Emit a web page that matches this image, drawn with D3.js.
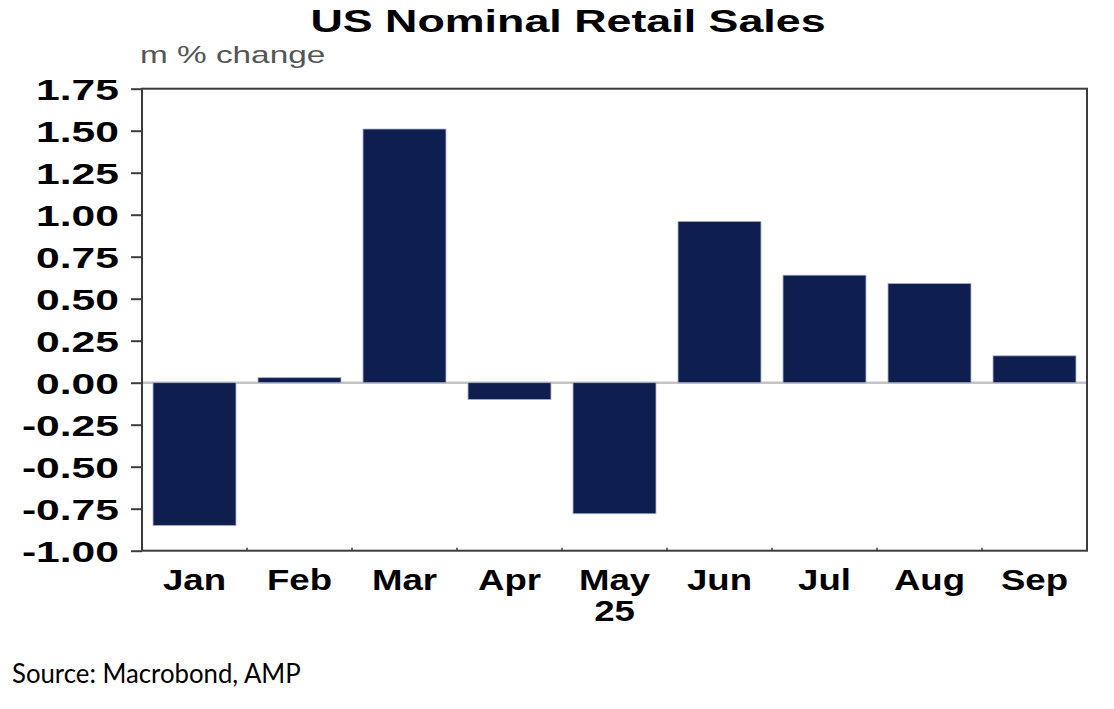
<!DOCTYPE html>
<html>
<head>
<meta charset="utf-8">
<script src="https://cdn.jsdelivr.net/npm/d3@7"></script>
<style>
  body { margin: 0; background: #fff; }
  svg { display: block; }
</style>
</head>
<body>
<div id="chart"></div>
<script>
/* DATA */
const months = ["Jan", "Feb", "Mar", "Apr", "May", "Jun", "Jul", "Aug", "Sep"];
const values = [-0.85, 0.03, 1.51, -0.10, -0.78, 0.96, 0.64, 0.59, 0.16];
const yTicks = [-1.00, -0.75, -0.50, -0.25, 0.00, 0.25, 0.50, 0.75, 1.00, 1.25, 1.50, 1.75];
const yearLabel = { month: "May", text: "25" };

/* CONSTANTS */
const width = 1114;
const height = 709;
const margin = { top: 88.7, right: 27, bottom: 158.3, left: 142 };
const font = "'Liberation Sans', Arial, sans-serif";

// the picture is a bit wider than the font, squeeze text sideways
function stretch(sel, sx) {
    sel.each(function () {
        const t = d3.select(this);
        const x = +t.attr("x") || 0;
        t.attr("x", x / sx).attr("transform", "scale(" + sx + ",1)");
    });
}

const svg = d3.select("#chart")
    .append("svg")
    .attr("width", width)
    .attr("height", height);

/* SCALES */
const xScale = d3.scaleBand()
    .domain(months)
    .range([margin.left, width - margin.right])
    .paddingInner(0.21)
    .paddingOuter(0.105);

const yScale = d3.scaleLinear()
    .domain([-1, 1.75])
    .range([height - margin.bottom, margin.top]);

// zero line
svg.append("line")
    .attr("x1", margin.left)
    .attr("x2", width - margin.right)
    .attr("y1", yScale(0))
    .attr("y2", yScale(0))
    .attr("stroke", "#c4c4c4")
    .attr("stroke-width", 2.5);

// BARS
svg.selectAll(".bars")
    .data(months)
    .join("rect")
    .attr("class", "bars")
    .attr("x", d => xScale(d))
    .attr("width", xScale.bandwidth())
    .attr("y", (d, i) => Math.min(yScale(values[i]), yScale(0)))
    .attr("height", (d, i) => Math.abs(yScale(values[i]) - yScale(0)))
    .attr("fill", "#0e1f4f")
    .attr("stroke", "#a9b0c6")
    .attr("stroke-width", 0.8);

// frame
svg.append("rect")
    .attr("x", margin.left)
    .attr("y", margin.top)
    .attr("width", width - margin.left - margin.right)
    .attr("height", height - margin.top - margin.bottom)
    .attr("fill", "none")
    .attr("stroke", "#3c3c3c")
    .attr("stroke-width", 2);

// small ticks between months on the bottom edge
const step = xScale.step();
svg.selectAll(".xtick")
    .data(months.slice(1))
    .join("line")
    .attr("class", "xtick")
    .attr("x1", d => xScale(d) - step * xScale.paddingInner() / 2)
    .attr("x2", d => xScale(d) - step * xScale.paddingInner() / 2)
    .attr("y1", height - margin.bottom)
    .attr("y2", height - margin.bottom - 3)
    .attr("stroke", "#3c3c3c")
    .attr("stroke-width", 1.5);

// Y AXIS
const yAxis = svg.append("g")
    .attr("transform", "translate(" + margin.left + ",0)")
    .call(d3.axisLeft(yScale).tickValues(yTicks).tickSize(11).tickPadding(12)
        .tickFormat(d => d.toFixed(2)));
yAxis.select(".domain").remove();
yAxis.selectAll(".tick line").attr("stroke", "#3c3c3c").attr("stroke-width", 2);
yAxis.selectAll(".tick text")
    .attr("fill", "#000")
    .style("font-family", font)
    .style("font-weight", "bold")
    .style("font-size", "30px")
    .attr("dy", "0.36em");
stretch(yAxis.selectAll(".tick text"), 1.42);

// X LABELS
const xLabels = svg.selectAll(".xlabel")
    .data(months)
    .join("text")
    .attr("class", "xlabel")
    .attr("x", d => xScale(d) + xScale.bandwidth() / 2)
    .attr("y", height - margin.bottom + 39)
    .attr("text-anchor", "middle")
    .style("font-family", font)
    .style("font-weight", "bold")
    .style("font-size", "30px")
    .text(d => d);
stretch(xLabels, 1.22);

const yr = svg.append("text")
    .attr("x", xScale(yearLabel.month) + xScale.bandwidth() / 2)
    .attr("y", height - margin.bottom + 70)
    .attr("text-anchor", "middle")
    .style("font-family", font)
    .style("font-weight", "bold")
    .style("font-size", "30px")
    .text(yearLabel.text);
stretch(yr, 1.22);

// TITLES
const title = svg.append("text")
    .attr("x", 568)
    .attr("y", 32)
    .attr("text-anchor", "middle")
    .style("font-family", font)
    .style("font-weight", "bold")
    .style("font-size", "32px")
    .text("US Nominal Retail Sales");
stretch(title, 1.4);

const unit = svg.append("text")
    .attr("x", 140)
    .attr("y", 63)
    .attr("fill", "#555")
    .style("font-family", font)
    .style("font-size", "23px")
    .text("m % change");
stretch(unit, 1.45);

const source = svg.append("text")
    .attr("x", 12)
    .attr("y", 683)
    .attr("fill", "#000")
    .style("font-family", "Lato, 'Open Sans', sans-serif")
    .style("font-size", "27px")
    .text("Source: Macrobond, AMP");
stretch(source, 0.955);
</script>
</body>
</html>
